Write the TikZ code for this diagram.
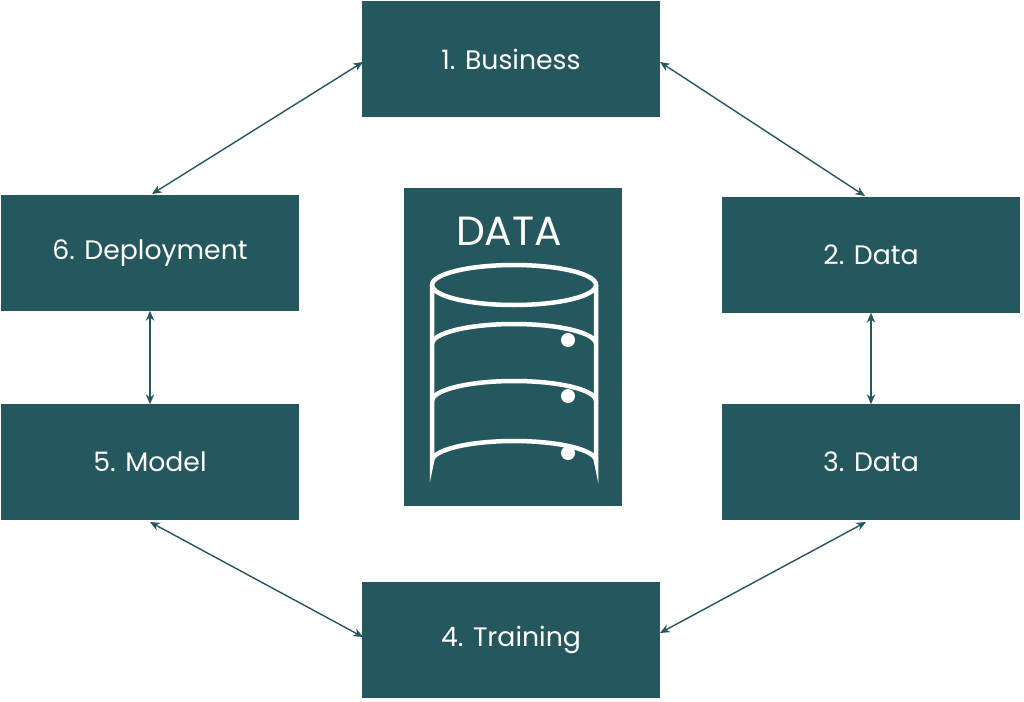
\documentclass[tikz,border=0pt]{standalone}
\usepackage{fontspec}
\setmainfont{Poppins}
\usetikzlibrary{arrows.meta}
\definecolor{boxteal}{HTML}{25575E}

\begin{document}
\begin{tikzpicture}[
    x=0.025cm, y=-0.025cm,
    font=\fontsize{19}{23}\selectfont,
    % Styles
    stage/.style={draw=none, fill=boxteal, text=white, minimum width=7.425cm, minimum height=2.875cm, inner sep=0pt},
    arrow/.style={{Stealth[length=7pt,width=6pt]}-{Stealth[length=7pt,width=6pt]}, draw=boxteal, line width=1pt},
    icon/.style={draw=white, line width=3.2pt}
]
    \useasboundingbox (0,0) rectangle (1024,702);

    % --- Stages ---
    \node[stage] (bus) at (511,59) {1. Business};
    \node[stage] (dat2) at (871,255) {2. Data};
    \node[stage] (dat3) at (871,462) {3. Data};
    \node[stage] (train) at (511,640) {4. Training};
    \node[stage] (model) at (150,462) {5. Model};
    \node[stage] (deploy) at (150,253) {6. Deployment};

    % --- Centre ---
    \node[fill=boxteal, minimum width=5.45cm, minimum height=7.95cm] (core) at (513,347) {};
    \node[text=white, font=\fontsize{29}{34}\selectfont] (title) at (509,231) {DATA};

    % Database icon
    \draw[icon] (514,285) ellipse (82 and 20);
    \draw[icon] (432,285) -- (432,461) arc[start angle=180, end angle=0, x radius=82, y radius=-20] -- (596,285);
    \draw[icon] (432,344) arc[start angle=180, end angle=0, x radius=82, y radius=-20];
    \draw[icon] (432,401) arc[start angle=180, end angle=0, x radius=82, y radius=-20];
    \foreach \y in {340,396,453}
        \fill[white] (568,\y) circle (7);

    % --- Connectors ---
    \coordinate (a1) at (363,62);
    \coordinate (a6) at (152,194);
    \coordinate (b1) at (660,62);
    \coordinate (b2) at (865,196);
    \coordinate (c5) at (150,522);
    \coordinate (c4) at (363,637);
    \coordinate (d3) at (866,522);
    \coordinate (d4) at (660,633);
    \draw[arrow] (a1) -- (a6);
    \draw[arrow] (b1) -- (b2);
    \draw[arrow] (dat2.south) -- (dat3.north);
    \draw[arrow] (deploy.south) -- (model.north);
    \draw[arrow] (c5) -- (c4);
    \draw[arrow] (d3) -- (d4);

\end{tikzpicture}
\end{document}
